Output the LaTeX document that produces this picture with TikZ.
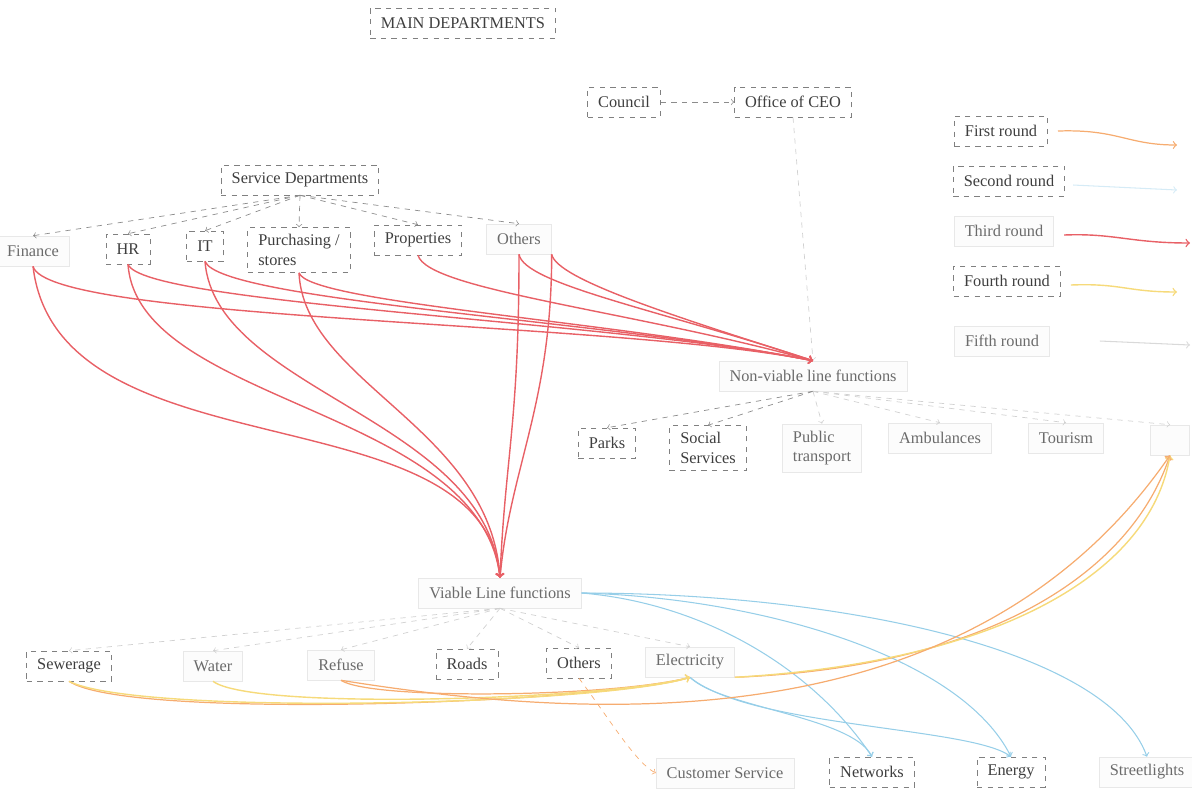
\documentclass[tikz,border=0pt]{standalone}
\usepackage{fontspec}
\setmainfont{Liberation Serif}
\definecolor{redline}{RGB}{232,96,102}
\definecolor{orangeline}{RGB}{246,172,112}
\definecolor{blueline}{RGB}{150,206,232}
\definecolor{yellowline}{RGB}{246,218,122}
\definecolor{inktext}{RGB}{62,62,62}
\tikzset{
    box/.style={draw=black!50, dashed, text=inktext, inner xsep=6pt, inner ysep=4pt, minimum height=17pt, align=left},
    faintbox/.style={draw=black!9, text=black!58, fill=black!1, inner xsep=6pt, inner ysep=4pt, minimum height=17pt, align=left},
    tree/.style={->, dashed, draw=black!45},
    ghost/.style={->, dashed, draw=black!18},
    r1/.style={->, draw=orangeline, line width=0.7pt},
    r2/.style={->, draw=blueline, line width=0.6pt},
    r3/.style={->, draw=redline, line width=0.8pt},
    r4/.style={->, draw=yellowline, line width=0.8pt},
    r5/.style={->, draw=black!15, line width=0.6pt}
}
\begin{document}
\begin{tikzpicture}[x=0.02cm, y=-0.02cm, font=\fontsize{9.3}{11}\selectfont]
            \useasboundingbox (0,0) rectangle (1192,789);

            % 标题
            \node[box] (main) at (463,23) {MAIN DEPARTMENTS};

            % 上层
            \node[box] (council) at (624,102) {Council};
            \node[box] (ceo) at (793,102) {Office of CEO};
            \node[box] (sd) at (300,180) {Service Departments};

            % 服务部门
            \node[faintbox] (fin) at (33,251) {Finance};
            \node[box] (hr) at (128,249) {HR};
            \node[box] (it) at (205,246) {IT};
            \node[box] (pur) at (299,250) {Purchasing /\\stores};
            \node[box] (prop) at (418,240) {Properties};
            \node[faintbox] (oth) at (519,239) {Others};

            % 非盈利职能
            \node[faintbox] (nlf) at (813,376) {Non-viable line functions};
            \node[box] (parks) at (607,443) {Parks};
            \node[box] (soc) at (708,448) {Social\\Services};
            \node[faintbox] (pub) at (822,448) {Public\\transport};
            \node[faintbox] (amb) at (940,438) {Ambulances};
            \node[faintbox] (tour) at (1066,438) {Tourism};
            \node[faintbox, minimum width=22pt] (more) at (1170,440) {};

            % 盈利职能
            \node[faintbox] (vlf) at (500,593) {Viable Line functions};
            \node[box] (sew) at (69,666) {Sewerage};
            \node[faintbox] (wat) at (213,666) {Water};
            \node[faintbox] (ref) at (341,665) {Refuse};
            \node[box] (roads) at (467,664) {Roads};
            \node[box] (voth) at (579,663) {Others};
            \node[faintbox] (elec) at (690,662) {Electricity};
            \node[faintbox] (cust) at (725,773) {Customer Service};
            \node[box] (net) at (872,772) {Networks};
            \node[box] (ener) at (1011,772) {Energy};
            \node[faintbox] (street) at (1147,772) {Streetlights};

            % 图例
            \node[box] (l1) at (1001,131) {First round};
            \node[box] (l2) at (1009,181) {Second round};
            \node[faintbox] (l3) at (1004,231) {Third round};
            \node[box] (l4) at (1007,281) {Fourth round};
            \node[faintbox] (l5) at (1002,341) {Fifth round};
            \coordinate (a1) at (1177,145);
            \coordinate (a2) at (1177,190);
            \coordinate (a3) at (1190,243);
            \coordinate (a4) at (1177,292);
            \coordinate (a5) at (1190,345);
            \draw[r1] (l1.east) ++(10,0) .. controls +(60,-2) and +(-50,0) .. (a1);
            \draw[r2, draw=blueline!40] (l2.east) ++(8,4) -- (a2);
            \draw[r3] (l3.east) ++(10,4) .. controls +(50,-2) and +(-60,0) .. (a3);
            \draw[r4] (l4.east) ++(10,4) .. controls +(50,-2) and +(-50,0) .. (a4);
            \draw[r5] (l5.east) ++(50,0) -- (a5);

            % 组织结构箭头
            \draw[tree] (council) -- (ceo);
            \draw[ghost] (ceo.south) -- (nlf.north);
            \foreach \n in {fin,hr,it,pur,prop,oth} {
                \draw[tree] (sd.south) -- (\n.north);
            }
            \foreach \n in {parks,soc} {
                \draw[tree] (nlf.south) -- (\n.north);
            }
            \foreach \n in {pub,amb,tour,more} {
                \draw[ghost] (nlf.south) -- (\n.north);
            }
            \foreach \n in {sew,wat,ref,roads,voth,elec} {
                \draw[ghost] (vlf.south) -- (\n.north);
            }

            % 第三轮: 服务部门 -> 非盈利职能
            \draw[r3] (fin.south) .. controls +(15,55) and +(-200,-40) .. (nlf.north);
            \draw[r3] (hr.south) .. controls +(15,40) and +(-200,-40) .. (nlf.north);
            \draw[r3] (it.south) .. controls +(15,40) and +(-200,-40) .. (nlf.north);
            \draw[r3] (pur.south) .. controls +(10,30) and +(-200,-40) .. (nlf.north);
            \draw[r3] (prop.south) .. controls +(10,35) and +(-180,-50) .. (nlf.north);
            \draw[r3] (oth.south) .. controls +(5,30) and +(-150,-50) .. (nlf.north);
            \draw[r3] (oth.south east) .. controls +(5,25) and +(-140,-45) .. (nlf.north);

            % 第三轮: 服务部门 -> 盈利职能
            \draw[r3] (fin.south) .. controls +(25,212) and +(-17,-190) .. (vlf.north);
            \draw[r3] (hr.south) .. controls +(10,140) and +(-20,-170) .. (vlf.north);
            \draw[r3] (it.south) .. controls +(10,130) and +(-15,-160) .. (vlf.north);
            \draw[r3] (pur.south) .. controls +(5,110) and +(-10,-150) .. (vlf.north);
            \draw[r3] (oth.south) .. controls +(0,170) and +(5,-120) .. (vlf.north);
            \draw[r3] (oth.south east) .. controls +(0,150) and +(10,-110) .. (vlf.north);

            % 第二轮
            \draw[r2] (vlf.east) .. controls +(120,10) and +(-60,-90) .. (net.north);
            \draw[r2] (vlf.east) .. controls +(180,5) and +(-50,-100) .. (ener.north);
            \draw[r2] (vlf.east) .. controls +(250,0) and +(-40,-110) .. (street.north);
            \draw[r2] (elec.south) .. controls +(30,30) and +(-20,-40) .. (net.north);
            \draw[r2] (elec.south) .. controls +(60,50) and +(-40,-30) .. (ener.north);

            % 第一轮 / 第四轮
            \draw[r1] (sew.south) .. controls +(60,40) and +(-80,25) .. (elec.south);
            \draw[r1] (ref.south) .. controls +(30,20) and +(-80,20) .. (elec.south);
            \draw[r4] (wat.south) .. controls +(40,30) and +(-80,22) .. (elec.south);
            \draw[r4] (sew.south) .. controls +(70,35) and +(-90,28) .. (elec.south);
            \draw[r1] (elec.south east) .. controls +(250,-10) and +(-40,120) .. (more.south);
            \draw[r4] (elec.south east) .. controls +(260,-15) and +(-20,120) .. (more.south);
            \draw[r1] (ref.south) .. controls +(250,40) and +(-200,290) .. (more.south);
            \draw[r1, dashed, line width=0.4pt] (voth.south) .. controls +(30,40) and +(-20,-10) .. (cust.west);
\end{tikzpicture}
\end{document}
